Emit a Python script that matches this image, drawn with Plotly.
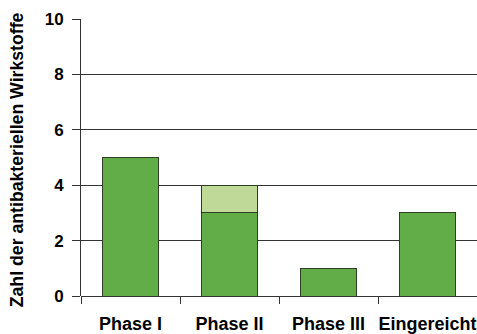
import plotly.graph_objects as go

categories = ["Phase I", "Phase II", "Phase III", "Eingereicht"]
base_values = [5, 3, 1, 3]
extra_values = [0, 1, 0, 0]
y_ticks = [0, 2, 4, 6, 8, 10]
y_title = "Zahl der antibakteriellen Wirkstoffe"

FONT = "Liberation Sans, Arial, sans-serif"
OUTLINE = "#2f3f26"

fig = go.Figure()
fig.add_trace(go.Bar(x=categories, y=base_values, width=0.565,
                     marker=dict(color="#62ad47", line=dict(color=OUTLINE, width=1))))
fig.add_trace(go.Bar(x=categories, y=extra_values, width=0.565,
                     marker=dict(color="#bfd998", line=dict(color=OUTLINE, width=1))))

fig.update_layout(
    width=477, height=334,
    margin=dict(l=81, r=0, t=19, b=38),
    barmode="stack",
    showlegend=False,
    plot_bgcolor="white", paper_bgcolor="white",
    font=dict(family=FONT, size=17, color="black"),
    xaxis=dict(type="category", tickson="boundaries", ticks="outside", ticklen=7,
               tickangle=0, automargin=False, ticklabelstandoff=15,
               tickcolor="#333", showgrid=False, showline=False, zeroline=False,
               tickfont=dict(family=FONT, size=18, color="black", weight="bold")),
    yaxis=dict(range=[0, 10], tickvals=y_ticks, ticks="outside", ticklen=8,
               automargin=False, ticklabelstandoff=5,
               tickcolor="#333", showgrid=True, gridcolor="#333", gridwidth=1,
               showline=True, linecolor="#333", linewidth=1,
               zeroline=True, zerolinecolor="#333", zerolinewidth=1,
               tickfont=dict(family=FONT, size=17, color="black", weight="bold")),
    annotations=[dict(text=y_title, textangle=-90, xref="paper", yref="paper",
                      x=-64 / 396, y=0.49, xanchor="center", yanchor="middle",
                      showarrow=False,
                      font=dict(family=FONT, size=17.7, color="black", weight="bold"))],
)

fig.write_html("out.html")
